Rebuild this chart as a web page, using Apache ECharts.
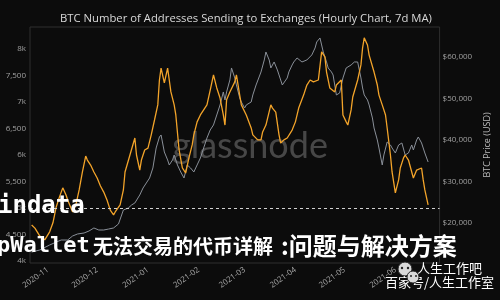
<!DOCTYPE html>
<html>
<head>
<meta charset="utf-8">
<script src="https://cdn.jsdelivr.net/npm/echarts@6/dist/echarts.min.js"></script>
<style>
html,body{margin:0;padding:0;background:#0c0c0c;}
#chart{width:500px;height:300px;}
</style>
</head>
<body>
<div id="chart"></div>
<script>
const chartTitle = 'BTC Number of Addresses Sending to Exchanges (Hourly Chart, 7d MA)';
const priceAxisName = 'BTC Price (USD)';
const overlayLine1 = 'indata';
const overlayLine2a = 'pWallet';
const overlayLine2b = '无法交易的代币详解';
const overlayLine2c = ':问题与解决方案';
const badgeLine1 = '人生工作吧';
const badgeLine2 = '百家号/人生工作室';
const watermark = 'glassnode';

const monthTicks = ['2020-11','2020-12','2021-01','2021-02','2021-03','2021-04','2021-05','2021-06'];
const addrTickValues = [4000,4500,5000,5500,6000,6500,7000,7500,8000];
const addrTickLabels = ['4k','4,500','5k','5,500','6k','6,500','7k','7,500','8k'];
const priceTickValues = [20000,30000,40000,50000,60000];
const priceTickLabels = ['$20,000','$30,000','$40,000','$50,000','$60,000'];
const referenceLevel = 5000;

const addrDates = ['2020-10-22','2020-10-24','2020-10-27','2020-10-30','2020-11-02','2020-11-04','2020-11-06','2020-11-08','2020-11-10','2020-11-12','2020-11-13','2020-11-16','2020-11-18','2020-11-20','2020-11-22','2020-11-24','2020-11-25','2020-11-27','2020-11-29','2020-12-01','2020-12-03','2020-12-05','2020-12-07','2020-12-09','2020-12-11','2020-12-12','2020-12-15','2020-12-17','2020-12-18','2020-12-21','2020-12-24','2020-12-25','2020-12-27','2020-12-28','2020-12-30','2021-01-01','2021-01-03','2021-01-05','2021-01-07','2021-01-08','2021-01-09','2021-01-11','2021-01-13','2021-01-14','2021-01-15','2021-01-17','2021-01-18','2021-01-20','2021-01-22','2021-01-24','2021-01-26','2021-01-28','2021-01-29','2021-01-31','2021-02-02','2021-02-04','2021-02-06','2021-02-08','2021-02-10','2021-02-12','2021-02-14','2021-02-16','2021-02-17','2021-02-18','2021-02-20','2021-02-23','2021-02-24','2021-02-26','2021-02-27','2021-03-02','2021-03-05','2021-03-06','2021-03-09','2021-03-11','2021-03-12','2021-03-14','2021-03-17','2021-03-18','2021-03-20','2021-03-22','2021-03-23','2021-03-25','2021-03-27','2021-03-30','2021-04-01','2021-04-03','2021-04-06','2021-04-08','2021-04-10','2021-04-12','2021-04-15','2021-04-17','2021-04-19','2021-04-20','2021-04-22','2021-04-25','2021-04-26','2021-04-29','2021-04-30','2021-05-02','2021-05-03','2021-05-05','2021-05-06','2021-05-09','2021-05-11','2021-05-12','2021-05-13','2021-05-15','2021-05-16','2021-05-19','2021-05-21','2021-05-22','2021-05-24','2021-05-26','2021-05-27','2021-05-29','2021-05-30','2021-06-01','2021-06-03','2021-06-04','2021-06-06','2021-06-07','2021-06-09','2021-06-10','2021-06-12','2021-06-14','2021-06-15','2021-06-17','2021-06-18','2021-06-19','2021-06-21'];
const addrValues = [4680,4620,4470,4400,4550,4720,5020,5210,5380,5245,5150,4925,5060,5340,5680,5980,5905,5810,5680,5565,5415,5300,5150,4960,4870,4925,5060,5340,5680,6000,6320,6000,5715,5905,6095,6130,6380,6660,6945,7415,7640,7360,7640,7415,7190,6945,6755,6095,5755,5660,5945,6190,6380,6625,6755,6850,6945,7225,7510,7265,7075,6755,6565,7040,7190,7380,7510,7130,6945,6755,6510,6380,6285,6285,6435,6565,6945,6885,6810,6380,6225,6285,6320,6470,6625,6885,7130,7320,7415,7380,7415,7945,7850,7565,7265,7190,7320,7415,6755,6625,6565,6850,7095,7415,7700,8020,8210,8075,7885,7565,7320,7130,6945,6755,6510,6000,5680,5285,5530,5755,5945,6000,5905,5870,5565,5715,5680,5755,5530,5340,5060];

const priceDates = ['2020-10-22','2020-10-27','2020-11-02','2020-11-06','2020-11-09','2020-11-13','2020-11-16','2020-11-19','2020-11-23','2020-11-26','2020-11-29','2020-12-02','2020-12-05','2020-12-08','2020-12-11','2020-12-14','2020-12-15','2020-12-17','2020-12-20','2020-12-22','2020-12-24','2020-12-27','2020-12-29','2020-12-31','2021-01-02','2021-01-04','2021-01-06','2021-01-08','2021-01-09','2021-01-11','2021-01-13','2021-01-14','2021-01-16','2021-01-17','2021-01-19','2021-01-21','2021-01-23','2021-01-25','2021-01-27','2021-01-29','2021-01-31','2021-02-02','2021-02-04','2021-02-06','2021-02-08','2021-02-10','2021-02-12','2021-02-14','2021-02-16','2021-02-17','2021-02-18','2021-02-20','2021-02-21','2021-02-23','2021-02-24','2021-02-26','2021-02-27','2021-03-01','2021-03-02','2021-03-05','2021-03-06','2021-03-08','2021-03-11','2021-03-13','2021-03-14','2021-03-16','2021-03-17','2021-03-19','2021-03-21','2021-03-22','2021-03-24','2021-03-27','2021-03-28','2021-03-30','2021-03-31','2021-04-02','2021-04-05','2021-04-08','2021-04-11','2021-04-13','2021-04-14','2021-04-16','2021-04-17','2021-04-18','2021-04-20','2021-04-21','2021-04-23','2021-04-24','2021-04-26','2021-04-28','2021-04-29','2021-04-30','2021-05-02','2021-05-03','2021-05-05','2021-05-07','2021-05-09','2021-05-11','2021-05-12','2021-05-13','2021-05-15','2021-05-16','2021-05-18','2021-05-19','2021-05-21','2021-05-22','2021-05-24','2021-05-25','2021-05-27','2021-05-29','2021-05-30','2021-06-01','2021-06-03','2021-06-05','2021-06-07','2021-06-09','2021-06-11','2021-06-12','2021-06-14','2021-06-15','2021-06-17','2021-06-18','2021-06-19','2021-06-21'];
const priceValues = [13000,13500,14700,15400,15900,15900,16870,17350,17590,18070,18800,18310,18310,18550,18800,19760,20240,23130,23615,24340,24820,26750,28435,29640,30845,33255,38075,40725,41210,37110,35185,33980,35185,36390,33980,32290,30845,33980,33255,32290,33980,35665,38075,40485,42415,43620,46030,48440,51570,49645,51570,54465,57355,54945,53260,50125,49160,47715,48440,49160,50850,53260,56390,59285,61210,59285,57355,58800,56875,55670,53260,54945,56390,58080,58800,59765,58800,59285,60490,62175,63620,64585,62900,61210,58800,57355,56390,55670,50850,51330,51570,54945,57355,57835,58080,58800,58800,54945,52535,50850,49645,48440,45305,42895,40005,38075,33980,36390,39520,38800,38075,36870,38800,39280,36390,36870,38800,37595,40005,40725,39280,38075,36870,34700];

const toTs = s => new Date(s + 'T00:00:00').getTime();
const monthTs = monthTicks.map(m => toTs(m + '-01'));

const chart = echarts.init(document.getElementById('chart'), null, {renderer: 'canvas'});
const option = {
  backgroundColor: '#0c0c0c',
  animation: false,
  title: {
    text: chartTitle, left: 55, top: 8,
    textStyle: {color: '#d8d8d8', fontSize: 11.3, fontWeight: 'normal', fontFamily: 'Open Sans'}
  },
  grid: {left: 30, right: 48, top: 27, bottom: 37, show: true, borderColor: '#2e2e2e', borderWidth: 1},
  xAxis: {
    type: 'value',
    min: toTs('2020-10-21'), max: toTs('2021-06-28'),
    axisLine: {show: false}, axisTick: {show: false}, splitLine: {show: false},
    axisLabel: {
      customValues: monthTs, rotate: 35, margin: 6, color: '#a8a8a8', fontSize: 8, fontFamily: 'Open Sans',
      formatter: v => { const i = monthTs.indexOf(v); return i >= 0 ? monthTicks[i] : ''; }
    }
  },
  yAxis: [{
    type: 'value', position: 'left', min: 3962, max: 8415,
    axisLine: {show: false}, axisTick: {show: false}, splitLine: {show: false},
    axisLabel: {
      customValues: addrTickValues, margin: 4, color: '#a0a0a0', fontSize: 8, fontFamily: 'Open Sans',
      formatter: v => { const i = addrTickValues.indexOf(v); return i >= 0 ? addrTickLabels[i] : ''; }
    }
  }, {
    type: 'value', position: 'right', min: 10361, max: 67229,
    name: priceAxisName, nameLocation: 'middle', nameRotate: 90, nameGap: 37,
    nameTextStyle: {color: '#bdbdbd', fontSize: 9, fontFamily: 'Open Sans'},
    axisLine: {show: false}, axisTick: {show: false}, splitLine: {show: false},
    axisLabel: {
      customValues: priceTickValues, margin: 3, color: '#a0a0a0', fontSize: 8, fontFamily: 'Open Sans',
      formatter: v => { const i = priceTickValues.indexOf(v); return i >= 0 ? priceTickLabels[i] : ''; }
    }
  }],
  series: [{
    type: 'line', yAxisIndex: 1, showSymbol: false, z: 2,
    data: priceDates.map((d, i) => [toTs(d), priceValues[i]]),
    lineStyle: {color: '#8a9099', width: 1}
  }, {
    type: 'line', yAxisIndex: 0, showSymbol: false, z: 3,
    data: addrDates.map((d, i) => [toTs(d), addrValues[i]]),
    lineStyle: {color: '#f3a42a', width: 1.3},
    markLine: {
      silent: true, symbol: 'none', label: {show: false},
      lineStyle: {color: '#d0d0d0', type: [3, 3], width: 1},
      data: [{yAxis: referenceLevel}]
    }
  }],
  graphic: [
    {type: 'text', left: 172, top: 128, z: 1, silent: true,
     style: {text: watermark, fill: 'rgba(120,120,120,0.55)', font: '36px Lato'}},
    {type: 'text', left: -2, top: 195, z: 100,
     style: {text: overlayLine1, fill: '#ffffff', font: 'bold 24px "DejaVu Sans Mono"'}},
    {type: 'text', left: -3, top: 235, z: 100,
     style: {text: overlayLine2a, fill: '#ffffff', font: 'bold 22px "DejaVu Sans Mono"'}},
    {type: 'text', left: 93, top: 236, z: 100,
     style: {text: overlayLine2b, fill: '#ffffff', font: 'bold 20px "Noto Sans CJK SC"'}},
    {type: 'text', left: 281, top: 234, z: 100,
     style: {text: overlayLine2c, fill: '#ffffff', font: 'bold 24px "Noto Sans CJK SC"'}},
    {type: 'circle', shape: {cx: 405, cy: 269, r: 7}, z: 100, style: {fill: '#d8d8d8', stroke: '#222', lineWidth: 1}},
    {type: 'circle', shape: {cx: 413, cy: 277, r: 6}, z: 101, style: {fill: '#d8d8d8', stroke: '#222', lineWidth: 1}},
    {type: 'circle', shape: {cx: 402, cy: 268, r: 1.2}, z: 102, style: {fill: '#222'}},
    {type: 'circle', shape: {cx: 408, cy: 268, r: 1.2}, z: 102, style: {fill: '#222'}},
    {type: 'circle', shape: {cx: 411, cy: 276, r: 1}, z: 102, style: {fill: '#222'}},
    {type: 'circle', shape: {cx: 416, cy: 276, r: 1}, z: 102, style: {fill: '#222'}},
    {type: 'text', left: 417, top: 262, z: 100,
     style: {text: badgeLine1, fill: '#ffffff', font: '13px "Noto Sans CJK SC"'}},
    {type: 'text', left: 385, top: 276, z: 100,
     style: {text: badgeLine2, fill: '#ffffff', font: '13px "Noto Sans CJK SC"'}}
  ]
};
chart.setOption(option);
</script>
</body>
</html>
